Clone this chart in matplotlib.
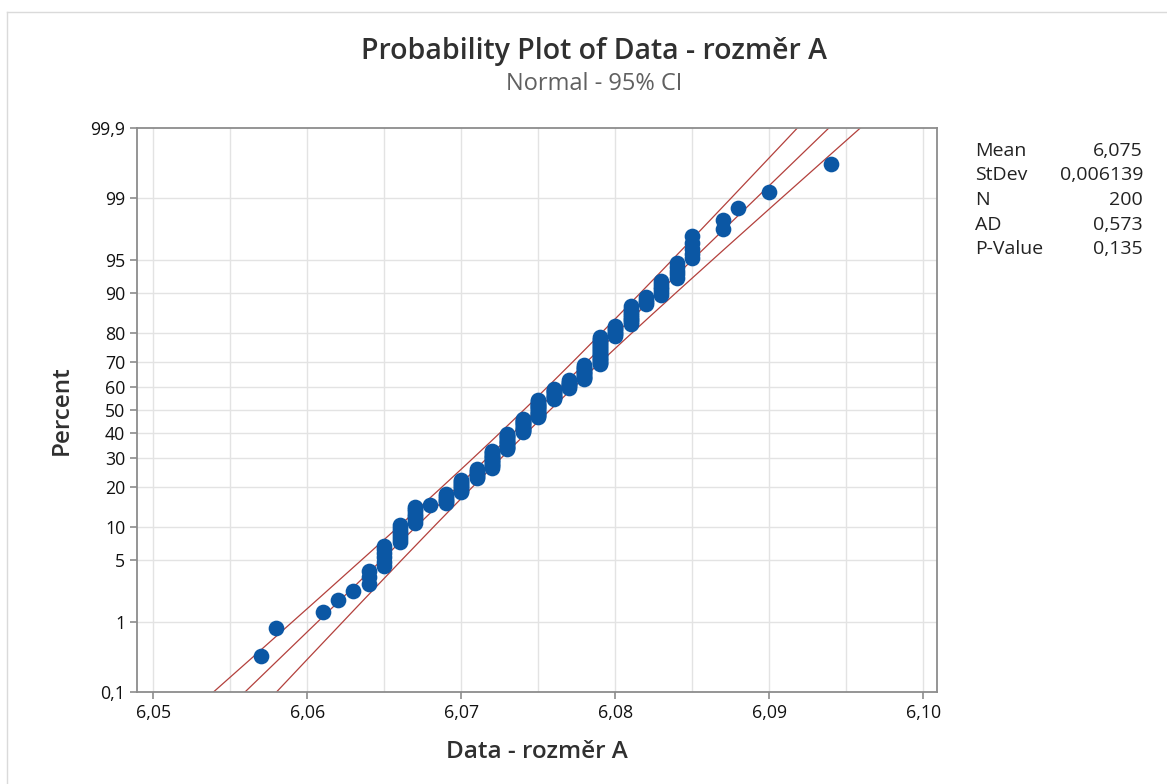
import math
import numpy as np
import matplotlib
matplotlib.use("Agg")
import matplotlib.pyplot as plt
from matplotlib.ticker import FixedLocator, FuncFormatter
from statistics import NormalDist

# ---- data (distinct values and counts) ----
values = [6.057, 6.058, 6.061, 6.062, 6.063, 6.064, 6.065, 6.066, 6.067, 6.068,
          6.069, 6.070, 6.071, 6.072, 6.073, 6.074, 6.075, 6.076, 6.077, 6.078,
          6.079, 6.080, 6.081, 6.082, 6.083, 6.084, 6.085, 6.087, 6.088, 6.090,
          6.094]
counts = [1, 1, 1, 1, 1, 3, 6, 7, 8, 1,
          6, 9, 7, 14, 14, 13, 16, 10, 7, 12,
          20, 7, 10, 4, 6, 5, 5, 2, 1, 1,
          1]

y_ticks = [0.1, 1, 5, 10, 20, 30, 40, 50, 60, 70, 80, 90, 95, 99, 99.9]
x_ticks = [6.05, 6.06, 6.07, 6.08, 6.09, 6.10]
stat_labels = ["Mean", "StDev", "N", "AD", "P-Value"]
stat_values = ["6,075", "0,006139", "200", "0,573", "0,135"]

title = "Probability Plot of Data - rozměr A"
subtitle = "Normal - 95% CI"
xlabel = "Data - rozměr A"
ylabel = "Percent"

# ---- derived ----
data = np.repeat(np.array(values), counts)
n = len(data)
ranks = np.arange(1, n + 1)
pct = (ranks - 0.3) / (n + 0.4) * 100.0  # Benard median ranks
mu = data.mean()
sd = data.std(ddof=1)

nd = NormalDist()

def _ppf1(p):
    if p != p:
        return float('nan')
    return nd.inv_cdf(min(max(p, 1e-12), 1 - 1e-12))

def _cdf1(z):
    if z != z:
        return float('nan')
    return nd.cdf(z)

_ppf = np.vectorize(_ppf1, otypes=[float])
_cdf = np.vectorize(_cdf1, otypes=[float])

def fwd(p):
    p = np.asarray(p, dtype=float)
    return _ppf(p / 100.0)

def inv(z):
    z = np.asarray(z, dtype=float)
    return _cdf(z) * 100.0

plt.rcParams['font.family'] = ['Open Sans', 'DejaVu Sans']

fig = plt.figure(figsize=(11.67, 7.84), dpi=100)
ax = fig.add_axes([137/1167, 1 - 692/784, (937 - 137)/1167, (692 - 128)/784])
ax.set_yscale('function', functions=(fwd, inv))
ax.set_ylim(0.1, 99.9)
ax.set_xlim(6.04895, 6.1009)

# fitted line and 95% CI
zg = np.linspace(-3.6, 3.6, 400)
pg = inv(zg)
xc = mu + zg * sd
hw = 1.96 * sd * np.sqrt(1.0 / n + zg**2 / (2.0 * n))
line_col = '#B3403C'
ax.plot(xc, pg, color=line_col, lw=0.9, zorder=2)
ax.plot(xc - hw, pg, color=line_col, lw=0.9, zorder=2)
ax.plot(xc + hw, pg, color=line_col, lw=0.9, zorder=2)

ax.plot(data, pct, 'o', color='#0B57A4', markersize=11.3, markeredgewidth=0, zorder=3)

# grid
grid_col = '#E3E3E3'
for gx in np.arange(6.05, 6.1001, 0.005):
    ax.axvline(gx, color=grid_col, lw=1.0, zorder=0)
for gy in y_ticks[1:-1]:
    ax.axhline(gy, color=grid_col, lw=1.0, zorder=0)

ax.yaxis.set_major_locator(FixedLocator(y_ticks))
ax.yaxis.set_minor_locator(FixedLocator([]))
ax.yaxis.set_major_formatter(FuncFormatter(lambda v, p: ('%g' % v).replace('.', ',')))
ax.xaxis.set_major_locator(FixedLocator(x_ticks))
ax.xaxis.set_major_formatter(FuncFormatter(lambda v, p: ('%.2f' % v).replace('.', ',')))

for s in ax.spines.values():
    s.set_color('#8C8C8C')
    s.set_linewidth(1.3)
ax.tick_params(axis='both', colors='#8C8C8C', labelcolor='#111111', labelsize=12.8,
               length=5, width=1.2, direction='out')
for lbl in ax.get_xticklabels() + ax.get_yticklabels():
    lbl.set_fontweight('medium')

ax.set_xlabel(xlabel, fontsize=17.5, color='#303030', fontweight='semibold', labelpad=13)
ax.set_ylabel(ylabel, fontsize=17.5, color='#303030', fontweight='semibold', labelpad=12)

fig.text(594/1167, 1 - 52/784, title, ha='center', va='center', fontsize=20.5,
         color='#303030', fontweight='semibold')
fig.text(594/1167, 1 - 84/784, subtitle, ha='center', va='center', fontsize=17,
         color='#606060')

for i, (lab, val) in enumerate(zip(stat_labels, stat_values)):
    yy = 1 - (151 + i * 24.5) / 784
    fig.text(975/1167, yy, lab, ha='left', va='center', fontsize=14, color='#222222')
    fig.text(1143/1167, yy, val, ha='right', va='center', fontsize=14, color='#222222')

# faint outer frame of the screenshot
fig.add_artist(plt.Line2D([7/1167, 1], [1 - 12/784, 1 - 12/784], transform=fig.transFigure,
                          color='#DADADA', lw=1))
fig.add_artist(plt.Line2D([7/1167, 7/1167], [0, 1 - 12/784], transform=fig.transFigure,
                          color='#DADADA', lw=1))

fig.savefig('out.png', dpi=100, facecolor='white')
